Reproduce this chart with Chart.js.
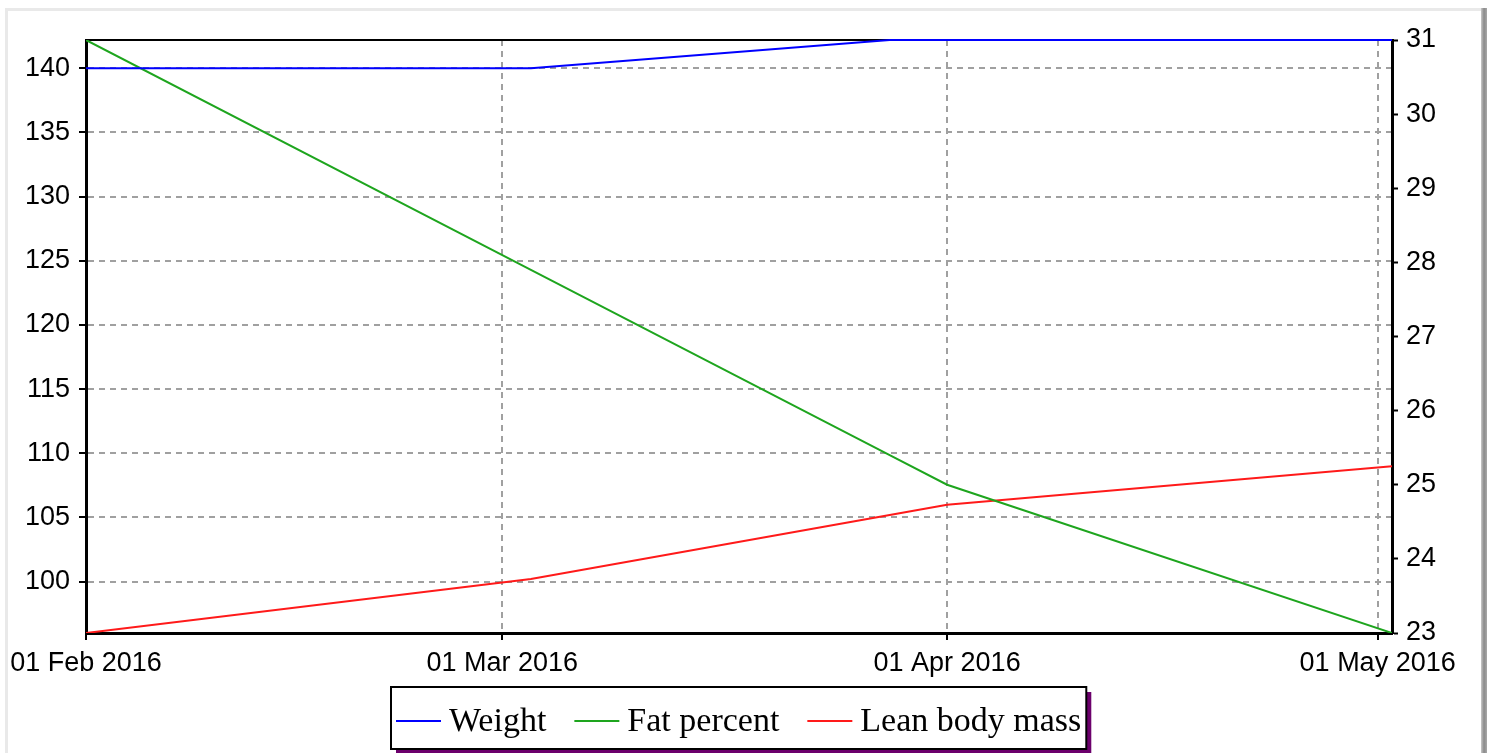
<!DOCTYPE html>
<html>
<head>
<meta charset="utf-8">
<script src="https://cdn.jsdelivr.net/npm/chart.js@4.4.1/dist/chart.umd.min.js"></script>
<style>
  body { margin: 0; background: #fff; overflow: hidden; }
  #frame { position: absolute; left: 5px; top: 8px; width: 1475px; height: 760px;
           border-top: 3px solid #e9e9e9; border-left: 3px solid #e9e9e9; }
  #edge { position: absolute; left: 1481px; top: 8px; width: 6px; height: 760px;
          background: linear-gradient(to right, #c8c8c8, #8a8a8a, #a8a8a8); }
  #wrap { position: absolute; left: 0; top: 0; }
</style>
</head>
<body>
<div id="frame"></div>
<div id="edge"></div>
<div id="wrap"><canvas id="chart" width="1491" height="753"></canvas></div>
<script>
// series data
const dates = ['2016-02-01', '2016-03-03', '2016-03-28', '2016-04-01', '2016-05-02'];
const weight = [140, 140, 142.2, 142.2, 142.2];
const fatPercent = [31, 27.9, 25.4, 25.0, 23.0];
const leanBodyMass = [96.0, 100.2, 105.2, 106.0, 109.0];

// axes
const xTickDates = ['2016-02-01', '2016-03-01', '2016-04-01', '2016-05-01'];
const xTickLabels = ['01 Feb 2016', '01 Mar 2016', '01 Apr 2016', '01 May 2016'];
const leftTicks = [100, 105, 110, 115, 120, 125, 130, 135, 140];
const rightTicks = [23, 24, 25, 26, 27, 28, 29, 30, 31];
const leftRange = [96, 142.2];
const rightRange = [23, 31];

const seriesNames = ['Weight', 'Fat percent', 'Lean body mass'];
const seriesColors = ['#0000ff', '#1ea51e', '#ff1a1a'];

const startUTC = Date.UTC(2016, 1, 1);
function dayOf(s) {
    const p = s.split('-').map(Number);
    return (Date.UTC(p[0], p[1] - 1, p[2]) - startUTC) / 86400000;
}
const xDays = dates.map(dayOf);
const xTickDays = xTickDates.map(dayOf);

function points(values) {
    return values.map((v, i) => ({ x: xDays[i], y: v }));
}

const tickFont = { family: '"Liberation Sans", Arial, sans-serif', size: 27 };
const gridColor = '#a0a0a0';

// top frame line of plot area
const topBorder = {
    id: 'topBorder',
    beforeDatasetsDraw(chart) {
        const a = chart.chartArea;
        const ctx = chart.ctx;
        ctx.save();
        ctx.strokeStyle = '#000';
        ctx.lineWidth = 2;
        ctx.beginPath();
        ctx.moveTo(a.left, a.top);
        ctx.lineTo(a.right, a.top);
        ctx.stroke();
        ctx.restore();
    }
};

// boxed legend with a shadow, below the axis labels
const boxLegend = {
    id: 'boxLegend',
    afterDraw(chart) {
        const ctx = chart.ctx;
        const a = chart.chartArea;
        ctx.save();
        ctx.font = '34px "Liberation Serif", "Times New Roman", serif';
        const lineLen = 45, lineGap = 8, itemGap = 28, pad = 5;
        const widths = seriesNames.map(n => ctx.measureText(n).width);
        let total = pad * 2;
        widths.forEach((w, i) => { total += lineLen + lineGap + w + (i ? itemGap : 0); });
        const cx = (a.left + a.right) / 2;
        const x0 = Math.round(cx - total / 2);
        const y0 = 687, h = 62;

        ctx.fillStyle = '#6c006c';
        ctx.fillRect(x0 + 5, y0 + 5, total, h);
        ctx.fillStyle = '#fff';
        ctx.fillRect(x0, y0, total, h);
        ctx.strokeStyle = '#000';
        ctx.lineWidth = 2;
        ctx.strokeRect(x0, y0, total, h);

        const midY = y0 + h / 2 + 3;
        let x = x0 + pad;
        ctx.textBaseline = 'middle';
        ctx.textAlign = 'left';
        seriesNames.forEach((n, i) => {
            if (i) x += itemGap;
            ctx.strokeStyle = seriesColors[i];
            ctx.lineWidth = 2;
            ctx.beginPath();
            ctx.moveTo(x, midY);
            ctx.lineTo(x + lineLen, midY);
            ctx.stroke();
            x += lineLen + lineGap;
            ctx.fillStyle = '#000';
            ctx.fillText(n, x, midY + 1);
            x += widths[i];
        });
        ctx.restore();
    }
};

new Chart(document.getElementById('chart'), {
    type: 'line',
    data: {
        datasets: [
            { label: seriesNames[0], data: points(weight), yAxisID: 'y', borderColor: seriesColors[0], clip: false },
            { label: seriesNames[1], data: points(fatPercent), yAxisID: 'y1', borderColor: seriesColors[1] },
            { label: seriesNames[2], data: points(leanBodyMass), yAxisID: 'y', borderColor: seriesColors[2] }
        ]
    },
    options: {
        responsive: false,
        animation: false,
        layout: { padding: { top: 40, bottom: 72, left: 0, right: 0 } },
        elements: {
            line: { borderWidth: 2, tension: 0 },
            point: { radius: 0 }
        },
        plugins: {
            legend: { display: false },
            tooltip: { enabled: false }
        },
        scales: {
            x: {
                type: 'linear',
                min: xDays[0],
                max: xDays[xDays.length - 1],
                afterBuildTicks: s => { s.ticks = xTickDays.map(v => ({ value: v })); },
                afterFit: s => { s.height = 48; },
                ticks: {
                    autoSkip: false,
                    maxRotation: 0,
                    padding: 7,
                    color: '#000',
                    font: tickFont,
                    callback: v => xTickLabels[xTickDays.indexOf(v)]
                },
                grid: { color: gridColor, lineWidth: 2, tickColor: '#000', tickLength: 7, tickWidth: 2, tickBorderDash: [] },
                border: { color: '#000', width: 3, dash: [6, 5] }
            },
            y: {
                position: 'left',
                min: leftRange[0],
                max: leftRange[1],
                afterBuildTicks: s => { s.ticks = leftTicks.map(v => ({ value: v })); },
                afterFit: s => { s.width = 86; },
                ticks: { color: '#000', font: tickFont, padding: 9 },
                grid: { color: gridColor, lineWidth: 2, tickColor: '#000', tickLength: 7, tickWidth: 2, tickBorderDash: [] },
                border: { color: '#000', width: 3, dash: [6, 5] }
            },
            y1: {
                position: 'right',
                min: rightRange[0],
                max: rightRange[1],
                afterBuildTicks: s => { s.ticks = rightTicks.map(v => ({ value: v })); },
                afterFit: s => { s.width = 99; },
                ticks: { color: '#000', font: tickFont, padding: 8 },
                grid: { drawOnChartArea: false, tickColor: '#000', tickLength: 6, tickWidth: 2 },
                border: { color: '#000', width: 3 }
            }
        }
    },
    plugins: [topBorder, boxLegend]
});
</script>
</body>
</html>
